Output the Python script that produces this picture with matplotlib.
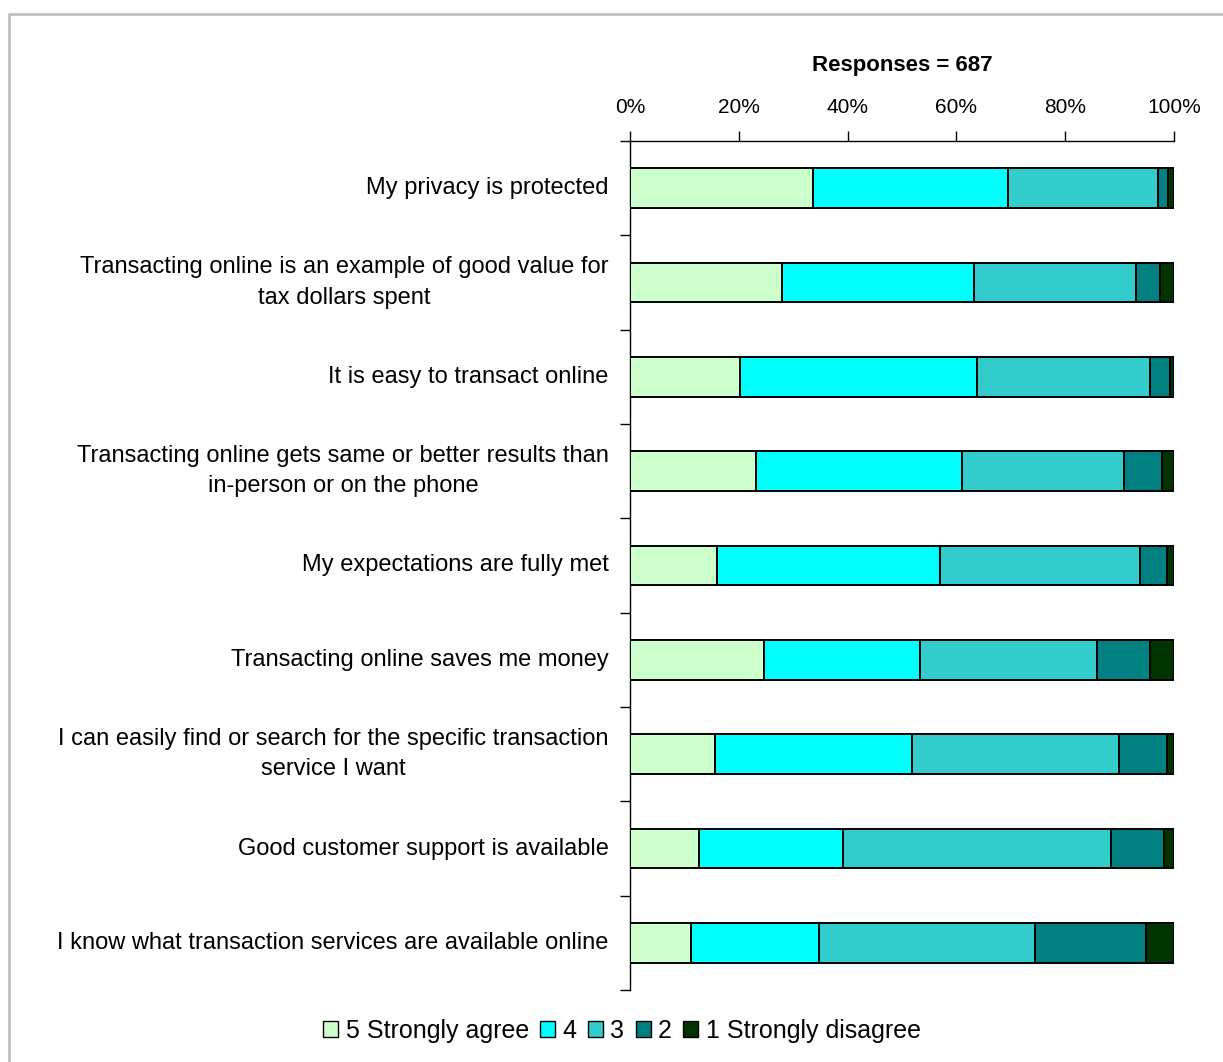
import matplotlib
matplotlib.use("Agg")
import matplotlib.pyplot as plt
from matplotlib.patches import Patch
from matplotlib.lines import Line2D
import numpy as np

plt.rcParams['font.family'] = ['Liberation Sans', 'DejaVu Sans']

categories = [
    "My privacy is protected",
    "Transacting online is an example of good value for\ntax dollars spent",
    "It is easy to transact online",
    "Transacting online gets same or better results than\nin-person or on the phone",
    "My expectations are fully met",
    "Transacting online saves me money",
    "I can easily find or search for the specific transaction\nservice I want",
    "Good customer support is available",
    "I know what transaction services are available online",
]

series_names = ["5 Strongly agree", "4", "3", "2", "1 Strongly disagree"]

agree5 = [33.7, 27.9, 20.3, 23.2, 16.0, 24.7, 15.6, 12.7, 11.2]
agree4 = [35.8, 35.4, 43.4, 37.9, 40.9, 28.6, 36.2, 26.4, 23.6]
neutral3 = [27.6, 29.8, 31.9, 29.8, 36.9, 32.5, 38.0, 49.3, 39.7]
disagree2 = [1.8, 4.3, 3.6, 6.9, 5.0, 9.8, 9.0, 9.7, 20.4]
disagree1 = [1.1, 2.6, 0.8, 2.2, 1.2, 4.4, 1.2, 1.9, 5.1]

colors = ["#CCFFCC", "#00FFFF", "#33CCCC", "#008080", "#003300"]

title = "Responses = 687"
xticks = [0, 20, 40, 60, 80, 100]
xtick_labels = ["0%", "20%", "40%", "60%", "80%", "100%"]

series = [agree5, agree4, neutral3, disagree2, disagree1]
data = np.array(series, dtype=float)
# normalise each row to 100 %
data = data / data.sum(axis=0) * 100

fig = plt.figure(figsize=(12.23, 10.62), dpi=100)
ax = fig.add_axes([630 / 1223, 1 - 990 / 1062, 544 / 1223, 849 / 1062])

y = np.arange(len(categories))
left = np.zeros(len(categories))
for vals, col, name in zip(data, colors, series_names):
    ax.barh(y, vals, left=left, height=0.42, color=col, edgecolor="black",
            linewidth=1.4, label=name, zorder=3)
    left += vals

ax.set_xlim(0, 100)
ax.set_ylim(len(categories) - 0.5, -0.5)

ax.xaxis.tick_top()
ax.set_xticks(xticks)
ax.set_xticklabels(xtick_labels, fontsize=15)
ax.tick_params(axis="x", direction="out", length=7, width=1, pad=10, colors="black")

# category labels as text; ticks sit on the category boundaries
ax.set_yticks(np.arange(-0.5, len(categories)), minor=False)
ax.set_yticklabels([])
ax.tick_params(axis="y", direction="out", length=7, width=1)
for yi, lab in zip(y, categories):
    ax.text(-3.9, yi, lab, ha="right", va="center", multialignment="center",
            fontsize=17, linespacing=1.5)

for s in ["right", "bottom"]:
    ax.spines[s].set_visible(False)
for s in ["left", "top"]:
    ax.spines[s].set_linewidth(1)
    ax.spines[s].set_color("black")

fig.text(902 / 1223, 1 - 65 / 1062, title, ha="center", va="center",
         fontsize=16, fontweight="bold")

handles = [Patch(facecolor=c, edgecolor="black", linewidth=1.0) for c in colors]
fig.legend(handles, series_names, loc="center", bbox_to_anchor=(622 / 1223, 1 - 1031 / 1062),
           ncol=5, frameon=False, fontsize=18, handlelength=0.6, handleheight=0.6,
           handletextpad=0.3, columnspacing=0.45, borderaxespad=0)

# outer chart-area border (top and left edges)
border = Line2D([9 / 1223, 9 / 1223, 1],
                [0, 1 - 14 / 1062, 1 - 14 / 1062],
                transform=fig.transFigure, color="#C0C0C0", linewidth=2)
fig.add_artist(border)

fig.savefig("out.png", dpi=100, facecolor="white")
